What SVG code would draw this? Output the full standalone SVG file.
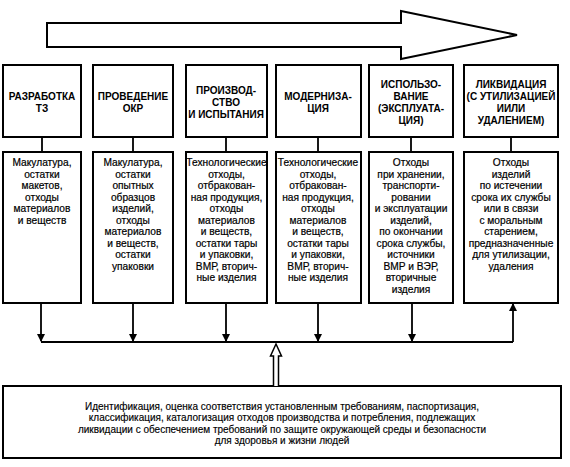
<svg xmlns="http://www.w3.org/2000/svg" width="570" height="467" viewBox="0 0 570 467">
<defs>
<style>
.box{fill:#fff;stroke:#000;stroke-width:2}
.ln{stroke:#000;stroke-width:1.8;fill:none}
.h{font-family:"Liberation Sans",Arial,sans-serif;font-size:10px;font-weight:bold;text-anchor:middle;fill:#000}
.t{font-family:"Liberation Sans",Arial,sans-serif;font-size:10.2px;text-anchor:middle;fill:#000;stroke:#000;stroke-width:0.2}
.b{font-family:"Liberation Sans",Arial,sans-serif;font-size:10px;text-anchor:middle;fill:#000;stroke:#000;stroke-width:0.15}
</style>
<marker id="ah" markerWidth="8" markerHeight="10" refX="7" refY="4" orient="auto" markerUnits="userSpaceOnUse">
<path d="M0,0 L8,4 L0,8 Z" fill="#000"/>
</marker>
</defs>
<rect width="570" height="467" fill="#fff"/>
<g id="arrow">
<path d="M47,23 L401,23 L401,11 L517,35 L401,59 L401,47 L47,47 Z" fill="#fff" stroke="#000" stroke-width="2"/>
</g>
<g id="stage1">
<rect class="box" x="3" y="65" width="78" height="72"/>
<text class="h" x="42" y="100">РАЗРАБОТКА</text><text class="h" x="42" y="112">ТЗ</text>
</g>
<g id="stage2">
<rect class="box" x="93" y="65" width="80" height="72"/>
<text class="h" x="133" y="100">ПРОВЕДЕНИЕ</text><text class="h" x="133" y="112">ОКР</text>
</g>
<g id="stage3">
<rect class="box" x="186" y="65" width="81" height="72"/>
<text class="h" x="226" y="94">ПРОИЗВОД-</text><text class="h" x="226" y="106">СТВО</text><text class="h" x="226" y="118">И ИСПЫТАНИЯ</text>
</g>
<g id="stage4">
<rect class="box" x="276" y="65" width="85" height="72"/>
<text class="h" x="318" y="100">МОДЕРНИЗА-</text><text class="h" x="318" y="112">ЦИЯ</text>
</g>
<g id="stage5">
<rect class="box" x="369" y="65" width="84" height="72"/>
<text class="h" x="411" y="88">ИСПОЛЬЗО-</text><text class="h" x="411" y="100">ВАНИЕ</text><text class="h" x="411" y="112">(ЭКСПЛУАТА-</text><text class="h" x="411" y="124">ЦИЯ)</text>
</g>
<g id="stage6">
<rect class="box" x="464" y="65" width="94" height="72"/>
<text class="h" x="511" y="88">ЛИКВИДАЦИЯ</text><text class="h" x="511" y="100">(С УТИЛИЗАЦИЕЙ</text><text class="h" x="511" y="112">ИИЛИ</text><text class="h" x="511" y="124">УДАЛЕНИЕМ)</text>
</g>
<g id="waste1">
<rect class="box" x="3" y="152" width="78" height="151"/>
<text class="t" x="42" y="166">Макулатура,<tspan x="42" dy="11.5">остатки</tspan><tspan x="42" dy="11.5">макетов,</tspan><tspan x="42" dy="11.5">отходы</tspan><tspan x="42" dy="11.5">материалов</tspan><tspan x="42" dy="11.5">и веществ</tspan></text>
</g>
<g id="waste2">
<rect class="box" x="93" y="152" width="80" height="151"/>
<text class="t" x="133" y="166">Макулатура,<tspan x="133" dy="11.5">остатки</tspan><tspan x="133" dy="11.5">опытных</tspan><tspan x="133" dy="11.5">образцов</tspan><tspan x="133" dy="11.5">изделий,</tspan><tspan x="133" dy="11.5">отходы</tspan><tspan x="133" dy="11.5">материалов</tspan><tspan x="133" dy="11.5">и веществ,</tspan><tspan x="133" dy="11.5">остатки</tspan><tspan x="133" dy="11.5">упаковки</tspan></text>
</g>
<g id="waste3">
<rect class="box" x="186" y="152" width="81" height="151"/>
<text class="t" x="226.5" y="166">Технологические<tspan x="226.5" dy="11.5">отходы,</tspan><tspan x="226.5" dy="11.5">отбракован-</tspan><tspan x="226.5" dy="11.5">ная продукция,</tspan><tspan x="226.5" dy="11.5">отходы</tspan><tspan x="226.5" dy="11.5">материалов</tspan><tspan x="226.5" dy="11.5">и веществ,</tspan><tspan x="226.5" dy="11.5">остатки тары</tspan><tspan x="226.5" dy="11.5">и упаковки,</tspan><tspan x="226.5" dy="11.5">ВМР, вторич-</tspan><tspan x="226.5" dy="11.5">ные изделия</tspan></text>
</g>
<g id="waste4">
<rect class="box" x="276" y="152" width="85" height="151"/>
<text class="t" x="318" y="166">Технологические<tspan x="318" dy="11.5">отходы,</tspan><tspan x="318" dy="11.5">отбракован-</tspan><tspan x="318" dy="11.5">ная продукция,</tspan><tspan x="318" dy="11.5">отходы</tspan><tspan x="318" dy="11.5">материалов</tspan><tspan x="318" dy="11.5">и веществ,</tspan><tspan x="318" dy="11.5">остатки тары</tspan><tspan x="318" dy="11.5">и упаковки,</tspan><tspan x="318" dy="11.5">ВМР, вторич-</tspan><tspan x="318" dy="11.5">ные изделия</tspan></text>
</g>
<g id="waste5">
<rect class="box" x="369" y="152" width="84" height="151"/>
<text class="t" x="411" y="166">Отходы<tspan x="411" dy="11.5">при хранении,</tspan><tspan x="411" dy="11.5">транспорти-</tspan><tspan x="411" dy="11.5">ровании</tspan><tspan x="411" dy="11.5">и эксплуатации</tspan><tspan x="411" dy="11.5">изделий,</tspan><tspan x="411" dy="11.5">по окончании</tspan><tspan x="411" dy="11.5">срока службы,</tspan><tspan x="411" dy="11.5">источники</tspan><tspan x="411" dy="11.5">ВМР и ВЭР,</tspan><tspan x="411" dy="11.5">вторичные</tspan><tspan x="411" dy="11.5">изделия</tspan></text>
</g>
<g id="waste6">
<rect class="box" x="464" y="152" width="94" height="151"/>
<text class="t" x="511" y="166">Отходы<tspan x="511" dy="11.5">изделий</tspan><tspan x="511" dy="11.5">по истечении</tspan><tspan x="511" dy="11.5">срока их службы</tspan><tspan x="511" dy="11.5">или в связи</tspan><tspan x="511" dy="11.5">с моральным</tspan><tspan x="511" dy="11.5">старением,</tspan><tspan x="511" dy="11.5">предназначенные</tspan><tspan x="511" dy="11.5">для утилизации,</tspan><tspan x="511" dy="11.5">удаления</tspan></text>
</g>
<g id="control">
<rect class="box" x="3" y="386" width="558" height="72"/>
<text class="b" x="282" y="410">Идентификация, оценка соответствия установленным требованиям, паспортизация,<tspan x="282" dy="11.3">классификация, каталогизация отходов производства и потребления, подлежащих</tspan><tspan x="282" dy="11.3">ликвидации с обеспечением требований по защите окружающей среды и безопасности</tspan><tspan x="282" dy="11.3">для здоровья и жизни людей</tspan></text>
</g>
<g id="connectors">
<path class="ln" d="M42,137 V152 M133,137 V152 M226,137 V152 M318,137 V152 M411,137 V152 M511,137 V152"/>
<path class="ln" d="M41,342 H513"/>
<path class="ln" d="M41,303 V341" marker-end="url(#ah)"/>
<path class="ln" d="M133,303 V341" marker-end="url(#ah)"/>
<path class="ln" d="M226,303 V341" marker-end="url(#ah)"/>
<path class="ln" d="M318,303 V341" marker-end="url(#ah)"/>
<path class="ln" d="M412,303 V341" marker-end="url(#ah)"/>
<path class="ln" d="M513,342 V304" marker-end="url(#ah)"/>
<path d="M273.5,386 V356 H270.5 L276,344 L281.5,356 H278.5 V386" fill="#fff" stroke="#000" stroke-width="1.5"/>
</g>
</svg>
